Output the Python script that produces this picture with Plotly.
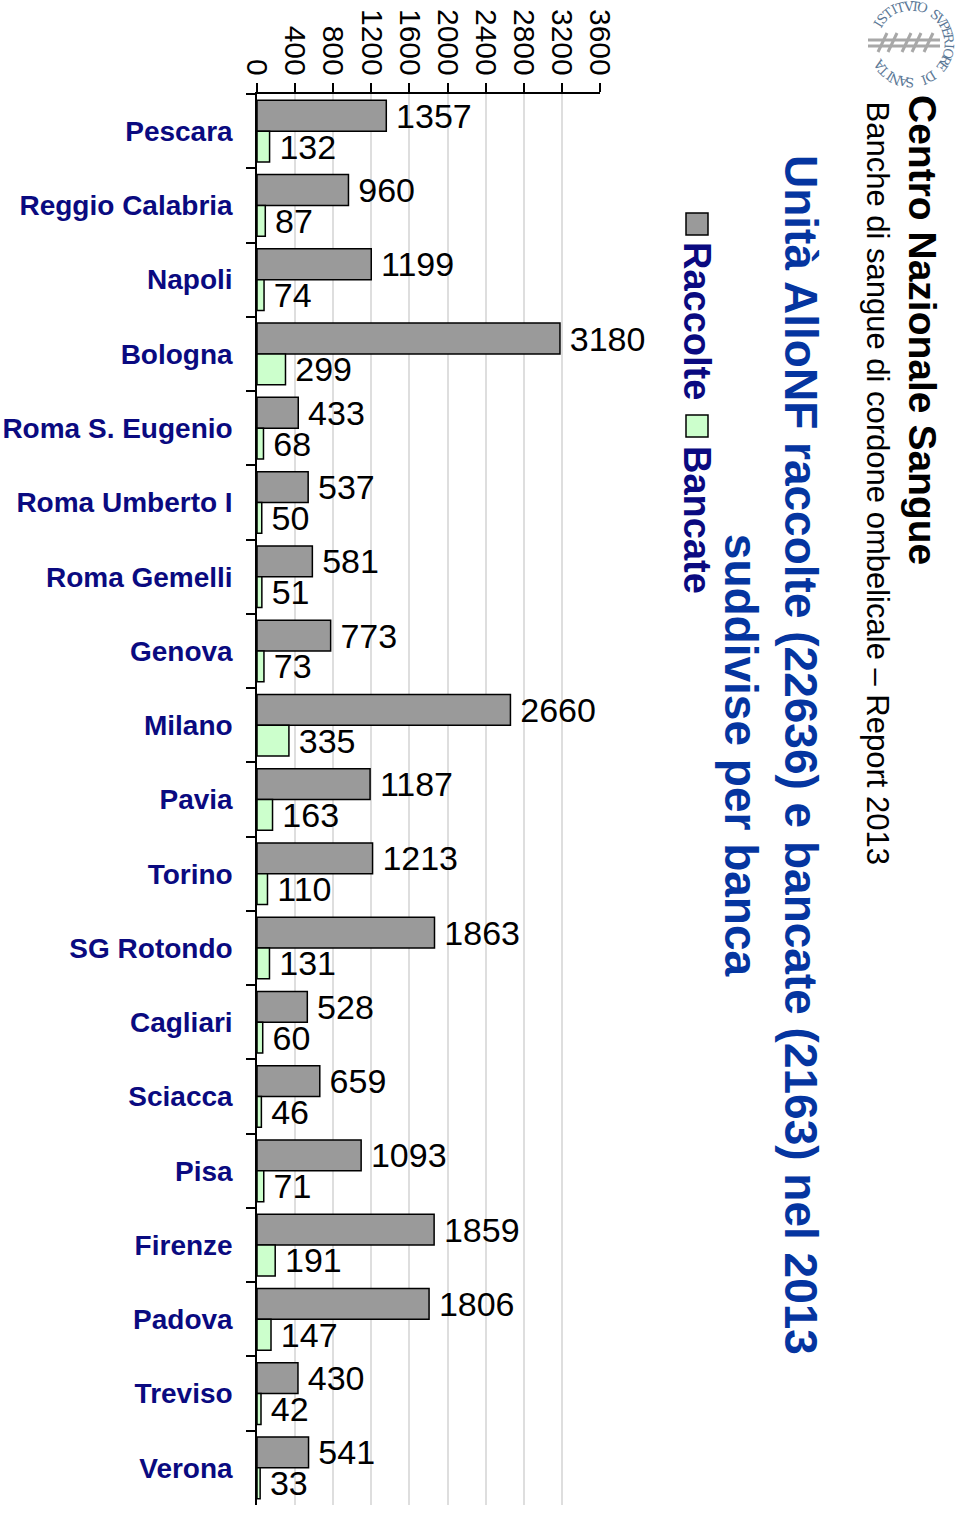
import math
import plotly.graph_objects as go

# ---------------- data ----------------
banche = ["Pescara", "Reggio Calabria", "Napoli", "Bologna", "Roma S. Eugenio",
          "Roma Umberto I", "Roma Gemelli", "Genova", "Milano", "Pavia", "Torino",
          "SG Rotondo", "Cagliari", "Sciacca", "Pisa", "Firenze", "Padova",
          "Treviso", "Verona"]
raccolte = [1357, 960, 1199, 3180, 433, 537, 581, 773, 2660, 1187, 1213, 1863,
            528, 659, 1093, 1859, 1806, 430, 541]
bancate = [132, 87, 74, 299, 68, 50, 51, 73, 335, 163, 110, 131, 60, 46, 71,
           191, 147, 42, 33]
x_ticks = [0, 400, 800, 1200, 1600, 2000, 2400, 2800, 3200, 3600]

titolo = "Unità AlloNF raccolte (22636) e bancate (2163) nel 2013<br>suddivise per banca"
centro = "Centro Nazionale Sangue"
sottotitolo = "Banche di sangue di cordone ombelicale \u2013 Report 2013"
logo_text = "ISTITVTO SVPERIORE DI SANITA"

# ---------------- geometry helpers ----------------
FONT = "Liberation Sans, Arial, sans-serif"
W, H = 960, 1513
ML, MR, MT, MB = 257, 360, 94, 8
PW, PH = W - ML - MR, H - MT - MB


def px(x):
    return (x - ML) / PW


def py(y):
    return (H - MB - y) / PH


GRAY = "#9a9a9a"
GREEN = "#ccffcc"
NAVY = "#0a0a80"
BLUE = "#0535a0"

fig = go.Figure()
fig.add_trace(go.Bar(
    name="Raccolte", y=banche, x=raccolte, orientation="h",
    marker=dict(color=GRAY, line=dict(color="black", width=1.5)),
    text=[str(v) for v in raccolte], texttemplate="\u2009%{text}",
    textposition="outside", constraintext="none", cliponaxis=False,
    textfont=dict(family=FONT, size=34, color="black"),
))
fig.add_trace(go.Bar(
    name="Bancate", y=banche, x=bancate, orientation="h",
    marker=dict(color=GREEN, line=dict(color="black", width=1.5)),
    text=[str(v) for v in bancate], texttemplate="\u2009%{text}",
    textposition="outside", constraintext="none", cliponaxis=False,
    textfont=dict(family=FONT, size=34, color="black"),
))

fig.update_layout(
    width=W, height=H,
    margin=dict(l=ML, r=MR, t=MT, b=MB, pad=0, autoexpand=False),
    paper_bgcolor="white", plot_bgcolor="white",
    barmode="group", bargap=0.17, bargroupgap=0,
    showlegend=False,
    font=dict(family=FONT),
)
fig.update_xaxes(
    side="top", range=[0, 3600], tickvals=x_ticks, tickangle=90,
    ticks="outside", ticklen=9, tickwidth=1.5, tickcolor="black",
    showline=True, linecolor="black", linewidth=1.5,
    showgrid=True, gridcolor="#dedede", gridwidth=1.5, zeroline=False,
    tickfont=dict(family=FONT, size=30, color="black"),
    ticklabelstandoff=-3, automargin=False,
)
fig.update_yaxes(
    autorange="reversed", categoryorder="array", categoryarray=banche,
    ticks="outside", tickson="boundaries", ticklen=9, tickwidth=1.5,
    tickcolor="black", showline=True, linecolor="black", linewidth=1.5,
    showgrid=False, zeroline=False,
    tickfont=dict(family=FONT, size=28, color=NAVY, weight="bold"),
    ticklabelstandoff=17, automargin=False,
)

annotations = []
shapes = []

# titles (rotated)
annotations.append(dict(text=titolo, x=px(771), y=py(755), xref="paper", yref="paper",
                        xanchor="center", yanchor="middle", textangle=90, showarrow=False,
                        align="center",
                        font=dict(family=FONT, size=46, color=BLUE, weight="bold")))
annotations.append(dict(text=centro, x=px(922), y=py(93), xref="paper", yref="paper",
                        xanchor="center", yanchor="top", textangle=90, showarrow=False,
                        font=dict(family=FONT, size=39, color="black", weight="bold")))
annotations.append(dict(text=sottotitolo, x=px(877), y=py(99), xref="paper", yref="paper",
                        xanchor="center", yanchor="top", textangle=90, showarrow=False,
                        font=dict(family=FONT, size=31, color="black")))

# legend (rotated, drawn manually)
for (y0, col, lab, ty) in [(213, GRAY, "Raccolte", 240), (415, GREEN, "Bancate", 444)]:
    shapes.append(dict(type="rect", xref="paper", yref="paper",
                       x0=px(686), x1=px(708), y0=py(y0 + 22), y1=py(y0),
                       fillcolor=col, line=dict(color="black", width=1.5)))
    annotations.append(dict(text=lab, x=px(697), y=py(ty), xref="paper", yref="paper",
                            xanchor="center", yanchor="top", textangle=90, showarrow=False,
                            font=dict(family=FONT, size=38, color=NAVY, weight="bold")))

# logo: circular text
cx, cy, r = 911, 44, 38
n = len(logo_text)
a0, a1 = -59, 236
for i, ch in enumerate(logo_text):
    if ch == " ":
        continue
    ang = a0 + (a1 - a0) * i / (n - 1)
    rad = math.radians(ang)
    x = cx + r * math.sin(rad)
    y = cy - r * math.cos(rad)
    annotations.append(dict(text=ch, x=px(x), y=py(y), xref="paper", yref="paper",
                            xanchor="center", yanchor="middle", textangle=ang,
                            showarrow=False,
                            font=dict(family="DejaVu Serif, serif", size=13, color="#5b7896")))
# logo emblem
for yy in (40, 46):
    shapes.append(dict(type="line", xref="paper", yref="paper",
                       x0=px(868), x1=px(940), y0=py(yy), y1=py(yy),
                       line=dict(color="#a8a8a8", width=3)))
for xs in (878, 888, 902, 912, 924):
    shapes.append(dict(type="line", xref="paper", yref="paper",
                       x0=px(xs), x1=px(xs + 9), y0=py(52), y1=py(33),
                       line=dict(color="#a8a8a8", width=3)))

fig.update_layout(annotations=annotations, shapes=shapes)
fig.write_html("out.html")
